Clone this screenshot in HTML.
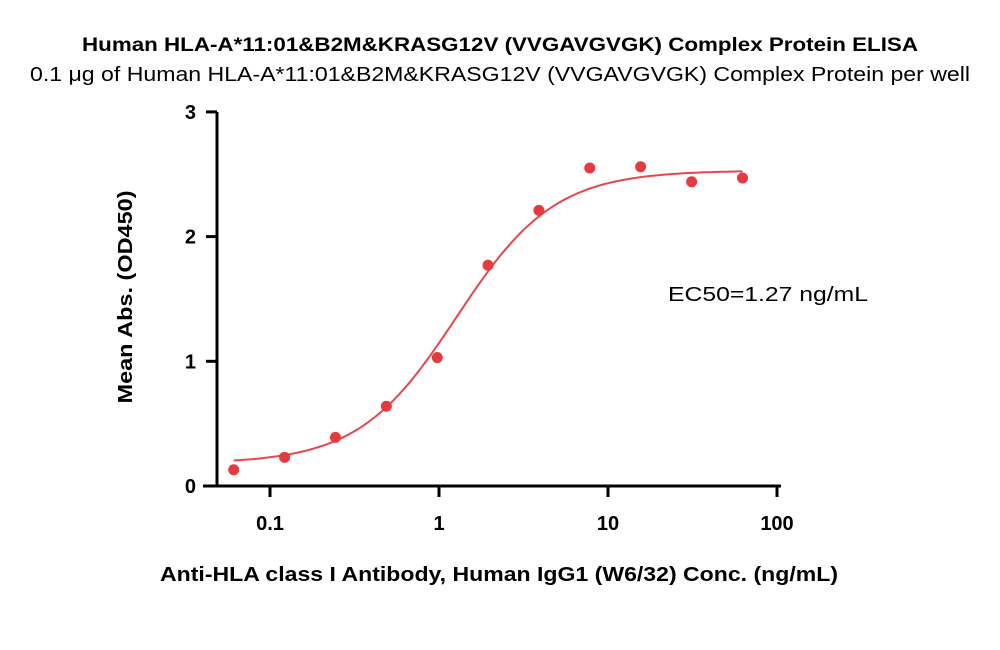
<!DOCTYPE html>
<html><head><meta charset="utf-8"><style>
body{margin:0;background:#fff;font-family:"Liberation Sans",sans-serif;}
svg text{font-family:"Liberation Sans",sans-serif;fill:#000;}
</style></head><body>
<svg width="1000" height="645" viewBox="0 0 1000 645">
<text x="500" y="51" text-anchor="middle" font-size="19" font-weight="bold" textLength="836" lengthAdjust="spacingAndGlyphs">Human HLA-A*11:01&amp;B2M&amp;KRASG12V (VVGAVGVGK) Complex Protein ELISA</text>
<text x="500" y="81" text-anchor="middle" font-size="20" textLength="940" lengthAdjust="spacingAndGlyphs">0.1 μg of Human HLA-A*11:01&amp;B2M&amp;KRASG12V (VVGAVGVGK) Complex Protein per well</text>
<g id="axes"></g>
<g id="marks"></g>
<text x="768" y="301" text-anchor="middle" font-size="20" textLength="200" lengthAdjust="spacingAndGlyphs">EC50=1.27 ng/mL</text>
<text x="499" y="581" text-anchor="middle" font-size="20" font-weight="bold" textLength="678" lengthAdjust="spacingAndGlyphs">Anti-HLA class I Antibody, Human IgG1 (W6/32) Conc. (ng/mL)</text>
<text transform="translate(132,297) rotate(-90)" text-anchor="middle" font-size="20" font-weight="bold" textLength="213" lengthAdjust="spacingAndGlyphs">Mean Abs. (OD450)</text>
</svg>
<script>
const concentrations=[0.061,0.122,0.244,0.488,0.977,1.95,3.9,7.8,15.6,31.25,62.5];
const absorbances=[0.13,0.23,0.39,0.64,1.03,1.77,2.21,2.55,2.56,2.44,2.47];
const xTicks=[0.1,1,10,100];
const xTickLabels=["0.1","1","10","100"];
const yTicks=[0,1,2,3];
const fitBottom=0.18, fitTop=2.53, fitEC50=1.27, fitHill=1.5;
const NS="http://www.w3.org/2000/svg";
function xs(v){return 439+169*Math.log10(v);}
function ys(v){return 486-124.7*v;}
function mk(tag,attrs,parent){const e=document.createElementNS(NS,tag);for(const k in attrs)e.setAttribute(k,attrs[k]);parent.appendChild(e);return e;}
const ax=document.getElementById('axes'),mg=document.getElementById('marks');
let l=mk('line',{x1:217,y1:112,x2:217,y2:487,stroke:'#000','stroke-width':3},ax);


l=mk('line',{x1:203,y1:486,x2:781,y2:486,stroke:'#000','stroke-width':3},ax);


yTicks.forEach(t=>{
 const tk=mk('line',{x1:206,y1:ys(t),x2:217,y2:ys(t),stroke:'#000','stroke-width':3},ax);
 
 
 const tx=mk('text',{x:196,y:ys(t)+7,'text-anchor':'end','font-size':20,'font-weight':'bold'},ax);
 tx.textContent=t;
 
 
});
xTicks.forEach((t,i)=>{
 const tk=mk('line',{x1:xs(t),y1:486,x2:xs(t),y2:497,stroke:'#000','stroke-width':3},ax);
 
 
 const tx=mk('text',{x:xs(t),y:530,'text-anchor':'middle','font-size':20,'font-weight':'bold'},ax);
 tx.textContent=xTickLabels[i];
 
 
});
let d='';
const lo=Math.log10(concentrations[0]),hi=Math.log10(concentrations[concentrations.length-1]);
for(let i=0;i<=200;i++){const lx=lo+(hi-lo)*i/200,c=Math.pow(10,lx);
 const v=fitBottom+(fitTop-fitBottom)/(1+Math.pow(fitEC50/c,fitHill));
 d+=(i?'L':'M')+xs(c).toFixed(1)+','+ys(v).toFixed(1);}
const p=mk('path',{d:d,fill:'none',stroke:'#e8464a','stroke-width':2},mg);


concentrations.forEach((c,i)=>{
 const pt=mk('circle',{cx:xs(c),cy:ys(absorbances[i]),r:5.5,fill:'#e8393d'},mg);
 
 
});
</script>
</body></html>
